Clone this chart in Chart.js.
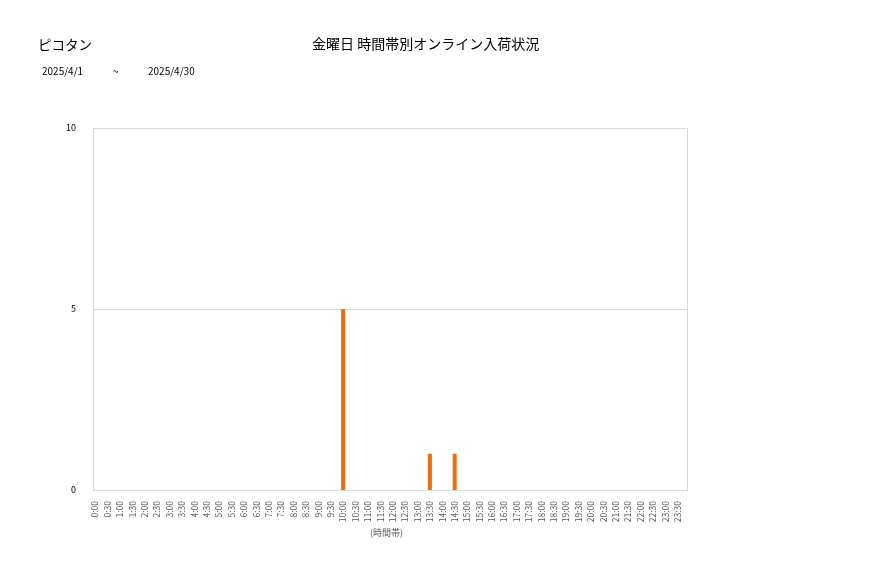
<!DOCTYPE html>
<html>
<head>
<meta charset="utf-8">
<script src="https://cdn.jsdelivr.net/npm/chart.js@4/dist/chart.umd.min.js"></script>
<style>
  body { margin: 0; background: #fff; font-family: "Noto Sans CJK JP", sans-serif; }
  #wrap { position: relative; width: 877px; height: 578px; }
  .t { position: absolute; color: #000; white-space: nowrap; }
</style>
</head>
<body>
<div id="wrap">
  <canvas id="myChart" width="877" height="578"></canvas>
  <div class="t" style="left:38px;top:34px;font-size:13.5px;">ピコタン</div>
  <div class="t" style="left:312px;top:33px;font-size:14px;">金曜日 時間帯別オンライン入荷状況</div>
  <div class="t" style="left:42px;top:63px;font-size:10px;">2025/4/1</div>
  <div class="t" style="left:113px;top:63px;font-size:10px;">~</div>
  <div class="t" style="left:148px;top:63px;font-size:10px;">2025/4/30</div>
</div>
<script>
var timeLabels = ['0:00', '0:30', '1:00', '1:30', '2:00', '2:30', '3:00', '3:30', '4:00', '4:30', '5:00', '5:30',
    '6:00', '6:30', '7:00', '7:30', '8:00', '8:30', '9:00', '9:30', '10:00', '10:30', '11:00', '11:30',
    '12:00', '12:30', '13:00', '13:30', '14:00', '14:30', '15:00', '15:30', '16:00', '16:30', '17:00', '17:30',
    '18:00', '18:30', '19:00', '19:30', '20:00', '20:30', '21:00', '21:30', '22:00', '22:30', '23:00', '23:30'];
var counts = [0, 0, 0, 0, 0, 0, 0, 0, 0, 0, 0, 0,
    0, 0, 0, 0, 0, 0, 0, 0, 5, 0, 0, 0,
    0, 0, 0, 1, 0, 1, 0, 0, 0, 0, 0, 0,
    0, 0, 0, 0, 0, 0, 0, 0, 0, 0, 0, 0];
var yTicks = [0, 5, 10];

// the excel plot box sits a few px right of the category slots
var shift = 4;

var frame = {
    id: 'frame',
    beforeDatasetsDraw: function (chart) {
        var a = chart.chartArea, c = chart.ctx, y = chart.scales.y;
        var l = a.left + shift, r = a.right + shift;
        c.save();
        c.strokeStyle = '#d9d9d9';
        c.lineWidth = 1;
        yTicks.forEach(function (v) {
            var py = Math.round(y.getPixelForValue(v)) + 0.5;
            c.beginPath(); c.moveTo(l, py); c.lineTo(r, py); c.stroke();
        });
        c.beginPath();
        c.moveTo(l + 0.5, a.top); c.lineTo(l + 0.5, a.bottom);
        c.moveTo(r - 0.5, a.top); c.lineTo(r - 0.5, a.bottom);
        c.stroke();
        c.restore();
    }
};

var ctx = document.getElementById('myChart').getContext('2d');
var myChart = new Chart(ctx, {
    type: 'bar',
    data: {
        labels: timeLabels,
        datasets: [{
            data: counts,
            backgroundColor: '#f06c12',
            barThickness: 4,
            inflateAmount: 0
        }]
    },
    plugins: [frame],
    options: {
        responsive: false,
        animation: false,
        layout: { padding: { left: 0, top: 128, right: 877 - 684, bottom: 40 } },
        plugins: { legend: { display: false }, tooltip: { enabled: false } },
        scales: {
            x: {
                grid: { display: false },
                border: { display: false },
                ticks: {
                    minRotation: 90, maxRotation: 90, autoSkip: false, padding: 3,
                    color: '#595959', font: { family: 'Noto Sans CJK JP', size: 8.5 }
                },
                title: {
                    display: true, text: '(時間帯)', color: '#595959',
                    font: { family: 'Noto Sans CJK JP', size: 9 }, padding: { top: 2, bottom: 0 }
                },
                afterFit: function (s) { s.height = 48; }
            },
            y: {
                min: 0, max: 10,
                afterBuildTicks: function (s) { s.ticks = yTicks.map(function (v) { return { value: v }; }); },
                grid: { display: false },
                border: { display: false },
                ticks: { padding: 5, color: '#000', font: { family: 'Noto Sans CJK JP', size: 9 } },
                afterFit: function (s) { s.width = 89; }
            }
        }
    }
});
</script>
</body>
</html>
